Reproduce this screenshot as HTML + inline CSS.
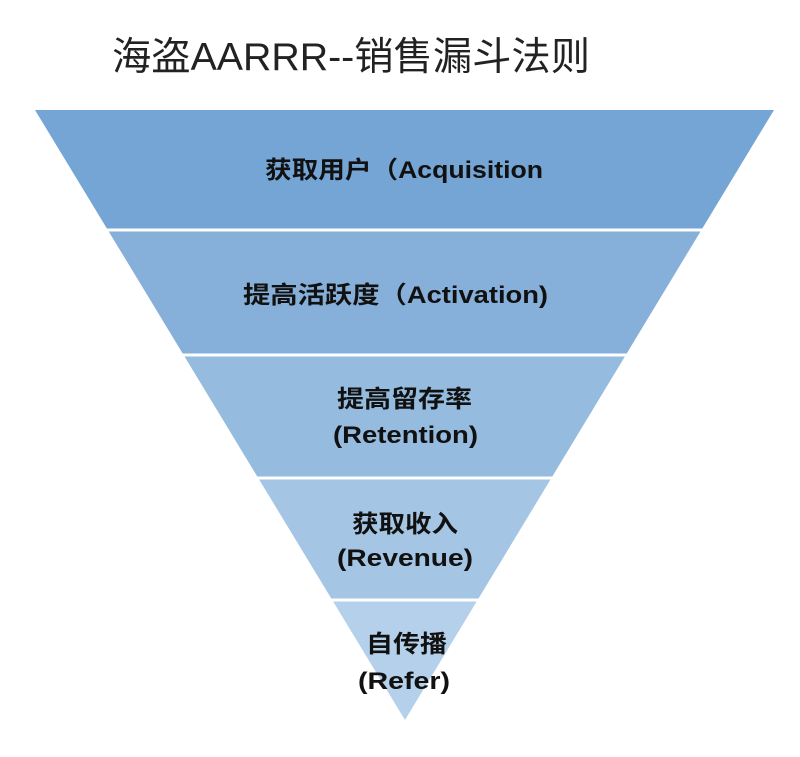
<!DOCTYPE html>
<html><head><meta charset="utf-8"><style>
html,body{margin:0;padding:0;background:#fff;width:800px;height:757px;overflow:hidden}
svg text{font-family:"Liberation Sans","Noto Sans CJK SC",sans-serif;fill:#111}
</style></head><body>
<svg width="800" height="757" xmlns="http://www.w3.org/2000/svg">
<text x="112" y="70" font-size="39" textLength="478" lengthAdjust="spacingAndGlyphs" style="fill:#222">海盗AARRR--销售漏斗法则</text>
<polygon points="35,110 774,110 701.4,230 107.8,230" fill="#74a5d4"/>
<polygon points="107.8,230 701.4,230 625.8,355 183.6,355" fill="#86b0da"/>
<polygon points="183.6,355 625.8,355 551.4,478 258.2,478" fill="#95bbdf"/>
<polygon points="258.2,478 551.4,478 477.6,600 332.2,600" fill="#a4c5e4"/>
<polygon points="332.2,600 477.6,600 405,720" fill="#b5d0ea"/>
<g stroke="#fff" stroke-width="3">
<line x1="100" y1="230" x2="710" y2="230"/>
<line x1="175" y1="355" x2="635" y2="355"/>
<line x1="250" y1="478" x2="560" y2="478"/>
<line x1="325" y1="600" x2="485" y2="600"/>
</g>
<g font-size="24" font-weight="bold" lengthAdjust="spacingAndGlyphs">
<text x="265" y="178" textLength="278" lengthAdjust="spacingAndGlyphs">获取用户（Acquisition</text>
<text x="243" y="303" textLength="305" lengthAdjust="spacingAndGlyphs">提高活跃度（Activation)</text>
<text x="337" y="407" textLength="135" lengthAdjust="spacingAndGlyphs">提高留存率</text>
<text x="333" y="443" textLength="145" lengthAdjust="spacingAndGlyphs">(Retention)</text>
<text x="352" y="532" textLength="106" lengthAdjust="spacingAndGlyphs">获取收入</text>
<text x="337" y="566" textLength="136" lengthAdjust="spacingAndGlyphs">(Revenue)</text>
<text x="366" y="652" textLength="81" lengthAdjust="spacingAndGlyphs">自传播</text>
<text x="358" y="689" textLength="92" lengthAdjust="spacingAndGlyphs">(Refer)</text>
</g>
</svg>
</body></html>
